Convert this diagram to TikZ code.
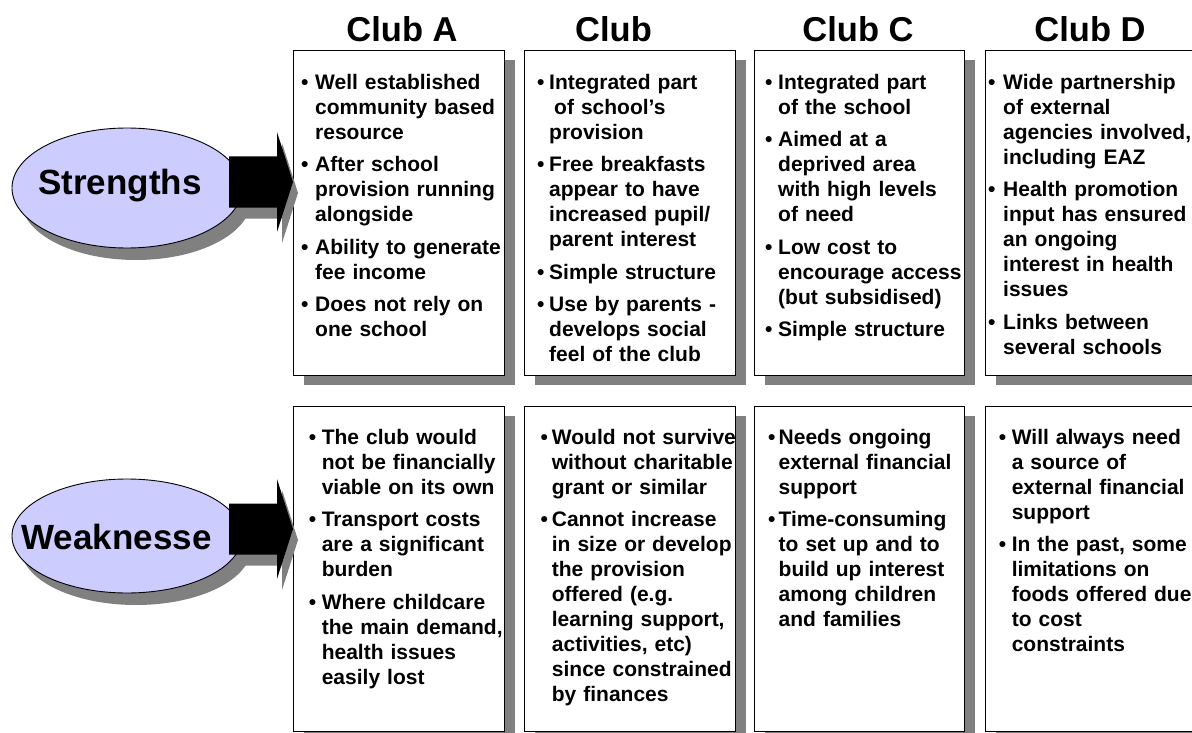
\documentclass[tikz,border=0pt]{standalone}
\usepackage{fontspec}
\setmainfont{Liberation Sans}
\usetikzlibrary{shadows,shapes.geometric}
\definecolor{lav}{HTML}{CCCCFF}
\definecolor{shd}{HTML}{808080}
\newlength\bind
\newcommand\bul[1]{\parindent=0pt\hangindent=\bind\hangafter=1\makebox[\bind][l]{\rule{0pt}{16pt}•}#1\par}
\newcommand\bgap{\vskip7.5pt}
\begin{document}
\begin{tikzpicture}[x=1pt,y=-1pt,
  cbox/.style={draw=black, line width=0.9pt, fill=white, anchor=north west,
    minimum width=211pt, minimum height=325pt, inner sep=0pt,
    drop shadow={shadow xshift=11pt, shadow yshift=-10pt, fill=shd, opacity=1}},
  btext/.style={anchor=north west, inner sep=0pt, text width=235pt, align=left,
    font=\fontsize{21pt}{25pt}\selectfont\bfseries},
  title/.style={anchor=base, inner sep=0pt, font=\fontsize{34.5pt}{40pt}\selectfont\bfseries},
  oval/.style={ellipse, draw=black, line width=0.9pt, fill=lav, inner sep=0pt,
    drop shadow={shadow xshift=9pt, shadow yshift=-12pt, fill=shd, opacity=1}},
  lab/.style={anchor=base, inner sep=0pt, font=\fontsize{35pt}{40pt}\selectfont\bfseries}
]
\useasboundingbox (0,0) rectangle (1192,733);
\clip (0,0) rectangle (1192,733);
\fill[white] (0,0) rectangle (1192,733);

% column titles
\node[title] (tA) at (402,42) {Club A};
\node[title, anchor=base west] (tB) at (575,42) {Club};
\node[title] (tC) at (858,42) {Club C};
\node[title] (tD) at (1090,42) {Club D};

% boxes
\node[cbox] (sA) at (293,50) {};
\node[cbox] (sB) at (524,50) {};
\node[cbox, minimum width=210pt] (sC) at (754,50) {};
\node[cbox] (sD) at (985,50) {};
\node[cbox] (wA) at (293,406) {};
\node[cbox] (wB) at (524,406) {};
\node[cbox, minimum width=210pt] (wC) at (754,406) {};
\node[cbox] (wD) at (985,406) {};

% arrow shadows
\coordinate (tipS) at (293,182);
\coordinate (tipW) at (293,529);
\fill[shd] ([xshift=5pt,yshift=-11pt]tipS) -- ++(-16,-50) -- ++(0,24.5) -- ++(-48,0) -- ++(0,51) -- ++(48,0) -- ++(0,24.5) -- cycle;
\fill[shd] ([xshift=5pt,yshift=-11pt]tipW) -- ++(-16,-50) -- ++(0,24.5) -- ++(-48,0) -- ++(0,51) -- ++(48,0) -- ++(0,24.5) -- cycle;

% ellipses
\node[oval, minimum width=230pt, minimum height=120pt] (eS) at (127,188) {};
\node[oval, minimum width=230pt, minimum height=114pt] (eW) at (127,536) {};

% arrows
\fill[black] (tipS) -- ++(-16,-50) -- ++(0,24.5) -- ++(-48,0) -- ++(0,51) -- ++(48,0) -- ++(0,24.5) -- cycle;
\fill[black] (tipW) -- ++(-16,-50) -- ++(0,24.5) -- ++(-48,0) -- ++(0,51) -- ++(48,0) -- ++(0,24.5) -- cycle;

\node[lab] (lS) at (120,195) {Strengths};
\node[lab] (lW) at (116.5,549) {Weaknesse};

% strengths text
\node[btext] (xA) at (301,73) {\setlength\bind{14pt}%
\bul{Well established\newline community based\newline resource}\bgap
\bul{After school\newline provision running\newline alongside}\bgap
\bul{Ability to generate\newline fee income}\bgap
\bul{Does not rely on\newline one school}};

\node[btext] (xB) at (537,73) {\setlength\bind{12pt}%
\bul{Integrated part\newline\hspace*{5pt}of school’s\newline provision}\bgap
\bul{Free breakfasts\newline appear to have\newline increased pupil/\newline parent interest}\bgap
\bul{Simple structure}\bgap
\bul{Use by parents -\newline develops social\newline feel of the club}};

\node[btext] (xC) at (765,73) {\setlength\bind{13pt}%
\bul{Integrated part\newline of the school}\bgap
\bul{Aimed at a\newline deprived area\newline with high levels\newline of need}\bgap
\bul{Low cost to\newline encourage access\newline (but subsidised)}\bgap
\bul{Simple structure}};

\node[btext] (xD) at (988,73) {\setlength\bind{15pt}%
\bul{Wide partnership\newline of external\newline agencies involved,\newline including EAZ}\bgap
\bul{Health promotion\newline input has ensured\newline an ongoing\newline interest in health\newline issues}\bgap
\bul{Links between\newline several schools}};

% weaknesses text
\node[btext] (yA) at (308.6,428) {\setlength\bind{13pt}%
\bul{The club would\newline not be financially\newline viable on its own}\bgap
\bul{Transport costs\newline are a significant\newline burden}\bgap
\bul{Where childcare\newline the main demand,\newline health issues\newline easily lost}};

\node[btext] (yB) at (540.3,428) {\setlength\bind{11.4pt}%
\bul{Would not survive\newline without charitable\newline grant or similar}\bgap
\bul{Cannot increase\newline in size or develop\newline the provision\newline offered (e.g.\newline learning support,\newline activities, etc)\newline since constrained\newline by finances}};

\node[btext] (yC) at (768,428) {\setlength\bind{10.5pt}%
\bul{Needs ongoing\newline external financial\newline support}\bgap
\bul{Time-consuming\newline to set up and to\newline build up interest\newline among children\newline and families}};

\node[btext] (yD) at (998.6,428) {\setlength\bind{13pt}%
\bul{Will always need\newline a source of\newline external financial\newline support}\bgap
\bul{In the past, some\newline limitations on\newline foods offered due\newline to cost\newline constraints}};
\end{tikzpicture}
\end{document}
